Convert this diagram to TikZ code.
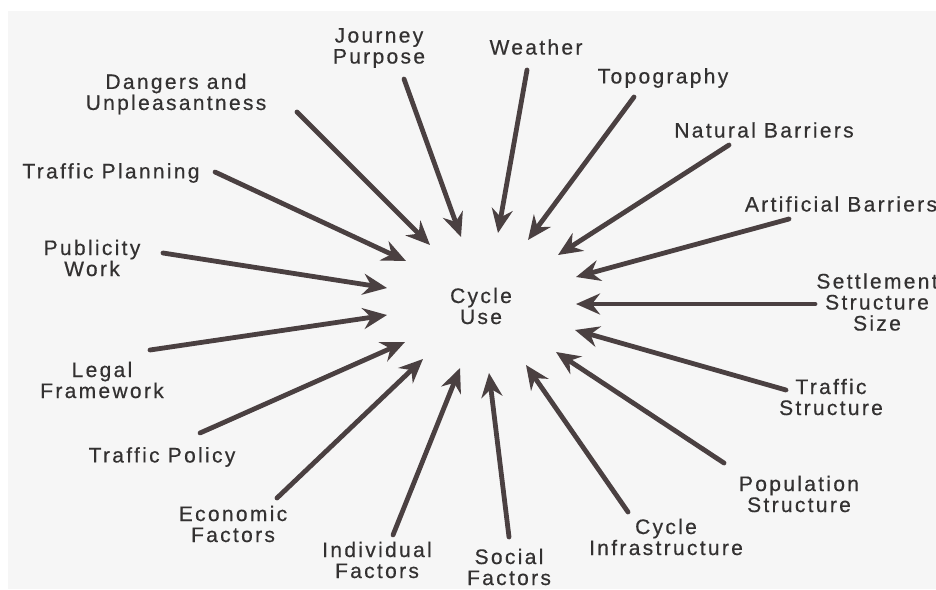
\documentclass[tikz,border=0pt]{standalone}
\usepackage{fontspec}
\setmainfont{Liberation Sans}[LetterSpace=11, FakeBold=0.5]
\usetikzlibrary{arrows.meta}
\definecolor{paper}{HTML}{F6F6F6}
\definecolor{ink}{HTML}{333131}
\definecolor{shaft}{HTML}{4A4041}
\tikzset{
  factor/.style={align=center, text=ink, inner sep=0pt,
    font=\fontsize{21}{21}\selectfont},
  arr/.style={draw=shaft, line width=4.8pt, line cap=round,
    -{Stealth[length=24pt, width=21pt, inset=8pt, fill=shaft]}}
}
\begin{document}
\begin{tikzpicture}[x=1pt, y=-1pt]
  \useasboundingbox (0,0) rectangle (936,589);
  \fill[white] (0,0) rectangle (936,589);
  \fill[paper] (8,11) rectangle (936,589);
  \begin{scope}
  \clip (0,0) rectangle (936,589);

  % central node
  \node[factor] (use) at (481,306) {Cycle\\Use};

  % influencing factors
  \node[factor] (journey)    at (379,48)  {Journey\\Purpose};
  \node[factor] (weather)    at (536,47)  {Weather};
  \node[factor] (topo)       at (663,78)  {Topography};
  \node[factor] (natural)    at (764,130) {Natural Barriers};
  \node[factor] (artificial) at (841,204) {Artificial Barriers};
  \node[factor] (settle)     at (877,302) {Settlement\\Structure\\Size};
  \node[factor] (trstruct)   at (831,397) {Traffic\\Structure};
  \node[factor] (population) at (799,494) {Population\\Structure};
  \node[factor] (infra)      at (666,537) {Cycle\\Infrastructure};
  \node[factor] (social)     at (509,567) {Social\\Factors};
  \node[factor] (individual) at (377,560) {Individual\\Factors};
  \node[factor] (economic)   at (233,524) {Economic\\Factors};
  \node[factor] (policy)     at (162,457) {Traffic Policy};
  \node[factor] (legal)      at (102,380) {Legal\\Framework};
  \node[factor] (publicity)  at (92,258)  {Publicity\\Work};
  \node[factor] (planning)   at (111,173) {Traffic Planning};
  \node[factor] (dangers)    at (176,94)  {Dangers and\\Unpleasantness};

  % arrow tails
  \coordinate (sJ)  at (404,79);
  \coordinate (sW)  at (527,70);
  \coordinate (sT)  at (634,97);
  \coordinate (sN)  at (729,145);
  \coordinate (sA)  at (789,219);
  \coordinate (sS)  at (815,304);
  \coordinate (sTS) at (786,390);
  \coordinate (sP)  at (724,463);
  \coordinate (sI)  at (628,512);
  \coordinate (sSo) at (509,537);
  \coordinate (sIn) at (393,535);
  \coordinate (sE)  at (277,498);
  \coordinate (sPo) at (200,433);
  \coordinate (sL)  at (150,350);
  \coordinate (sPu) at (163,253);
  \coordinate (sTP) at (215,172);
  \coordinate (sD)  at (297,112);

  % arrow tips around the centre
  \coordinate (tJ)  at (461,237);
  \coordinate (tW)  at (498,233);
  \coordinate (tT)  at (528,240);
  \coordinate (tN)  at (558,255);
  \coordinate (tA)  at (576,277);
  \coordinate (tS)  at (576,304);
  \coordinate (tTS) at (575,330);
  \coordinate (tP)  at (556,352);
  \coordinate (tI)  at (526,365);
  \coordinate (tSo) at (489,373);
  \coordinate (tIn) at (460,368);
  \coordinate (tE)  at (423,359);
  \coordinate (tPo) at (405,342);
  \coordinate (tL)  at (387,315);
  \coordinate (tPu) at (387,288);
  \coordinate (tTP) at (406,261);
  \coordinate (tD)  at (430,245);

  \foreach \k in {J,W,T,N,A,S,TS,P,I,So,In,E,Po,L,Pu,TP,D}
    \draw[arr] (s\k) -- (t\k);
  \end{scope}
\end{tikzpicture}
\end{document}
